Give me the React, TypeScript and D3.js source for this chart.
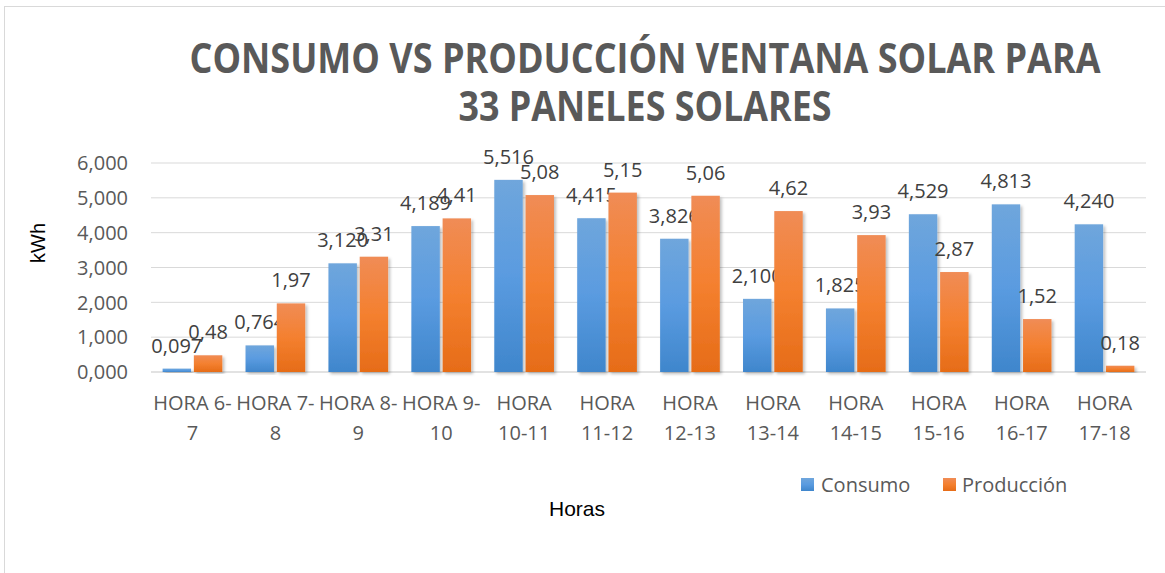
import * as d3 from "d3";

const categories = [
  ["HORA 6-", "7"],
  ["HORA 7-", "8"],
  ["HORA 8-", "9"],
  ["HORA 9-", "10"],
  ["HORA", "10-11"],
  ["HORA", "11-12"],
  ["HORA", "12-13"],
  ["HORA", "13-14"],
  ["HORA", "14-15"],
  ["HORA", "15-16"],
  ["HORA", "16-17"],
  ["HORA", "17-18"],
];
const consumo = [0.097, 0.764, 3.12, 4.189, 5.516, 4.415, 3.826, 2.1, 1.825, 4.529, 4.813, 4.24];
const produccion = [0.48, 1.97, 3.31, 4.41, 5.08, 5.15, 5.06, 4.62, 3.93, 2.87, 1.52, 0.18];
const yTicks = [0, 1, 2, 3, 4, 5, 6];

const W = 1165;
const H = 573;
const plot = { left: 151, right: 1146, top: 163, bottom: 372 };
const font = "'Open Sans', sans-serif";
const arial = "'Liberation Sans', Arial, sans-serif";
const textColor = "#595959";

const fmt = (v: number, digits: number) => v.toFixed(digits).replace(".", ",");

const App = () => {
  const x = d3
    .scaleBand<number>()
    .domain(d3.range(categories.length))
    .range([plot.left, plot.right])
    .paddingInner(0.28)
    .paddingOuter(0.14);
  const inner = d3
    .scaleBand<string>()
    .domain(["c", "p"])
    .range([0, x.bandwidth()])
    .paddingInner(0.09);
  const y = d3.scaleLinear().domain([0, 6]).range([plot.bottom, plot.top]);
  const step = (plot.right - plot.left) / categories.length;

  const series = [
    { key: "c", values: consumo, digits: 3, grad: "gBlue" },
    { key: "p", values: produccion, digits: 2, grad: "gOrange" },
  ];

  return (
    <svg
      width={W}
      height={H}
      style={{ position: "absolute", left: 0, top: 0, background: "#fff" }}
      fontFamily={font}
    >
      <defs>
        <linearGradient id="gBlue" x1="0" y1="0" x2="0" y2="1">
          <stop offset="0" stopColor="#6fa6dc" />
          <stop offset="0.5" stopColor="#5a9be0" />
          <stop offset="1" stopColor="#3f86cc" />
        </linearGradient>
        <linearGradient id="gOrange" x1="0" y1="0" x2="0" y2="1">
          <stop offset="0" stopColor="#f08c56" />
          <stop offset="0.5" stopColor="#f4802f" />
          <stop offset="1" stopColor="#e66c18" />
        </linearGradient>
        <filter id="shadow" x="-20%" y="-5%" width="150%" height="115%">
          <feDropShadow dx="2" dy="2" stdDeviation="1.5" floodColor="#000" floodOpacity="0.25" />
        </filter>
      </defs>

      <rect x={4.5} y={6.5} width={W} height={H} fill="#fff" stroke="#d9d9d9" />

      <text
        x={645}
        y={73}
        textAnchor="middle"
        fontWeight={700}
        fontSize={41}
        fill={textColor}
        textLength={911}
        lengthAdjust="spacingAndGlyphs"
      >
        CONSUMO VS PRODUCCIÓN VENTANA SOLAR PARA
      </text>
      <text
        x={645}
        y={121}
        textAnchor="middle"
        fontWeight={700}
        fontSize={41}
        fill={textColor}
        textLength={373}
        lengthAdjust="spacingAndGlyphs"
      >
        33 PANELES SOLARES
      </text>

      {yTicks.map((t) => (
        <g key={t}>
          <line
            x1={plot.left}
            x2={plot.right}
            y1={y(t)}
            y2={y(t)}
            stroke="#d9d9d9"
            strokeWidth={t === 0 ? 1.5 : 1}
          />
          <text
            x={128}
            y={y(t)}
            dy="0.36em"
            textAnchor="end"
            fontSize={20}
            fill={textColor}
          >
            {`${t},000`}
          </text>
        </g>
      ))}

      <text
        transform="translate(45, 243) rotate(-90)"
        textAnchor="middle"
        fontFamily={arial}
        fontSize={20}
        fill="#000"
      >
        kWh
      </text>

      {categories.map((c, i) => (
        <g key={i}>
          {series.map((s) => {
            const bx = (x(i) ?? 0) + (inner(s.key) ?? 0);
            const v = s.values[i];
            return (
              <g key={s.key}>
                <rect
                  x={bx}
                  y={y(v)}
                  width={inner.bandwidth()}
                  height={y(0) - y(v)}
                  fill={`url(#${s.grad})`}
                  filter="url(#shadow)"
                />
                <text
                  x={bx + inner.bandwidth() / 2}
                  y={y(v) - 16}
                  textAnchor="middle"
                  fontSize={20}
                  fill="#404040"
                >
                  {fmt(v, s.digits)}
                </text>
              </g>
            );
          })}
          <text
            x={plot.left + step * (i + 0.5)}
            y={410}
            textAnchor="middle"
            fontSize={20}
            fill={textColor}
          >
            <tspan x={plot.left + step * (i + 0.5)}>{c[0]}</tspan>
            <tspan x={plot.left + step * (i + 0.5)} dy={30}>
              {c[1]}
            </tspan>
          </text>
        </g>
      ))}

      <text x={577} y={516} textAnchor="middle" fontFamily={arial} fontSize={21} fill="#000">
        Horas
      </text>

      <g>
        <rect x={801} y={478} width={13} height={13} fill="url(#gBlue)" />
        <text x={821} y={485} dy="0.36em" fontSize={20} fill={textColor}>
          Consumo
        </text>
        <rect x={943} y={478} width={13} height={13} fill="url(#gOrange)" />
        <text x={962} y={485} dy="0.36em" fontSize={20} fill={textColor}>
          Producción
        </text>
      </g>
    </svg>
  );
};

export default App;
